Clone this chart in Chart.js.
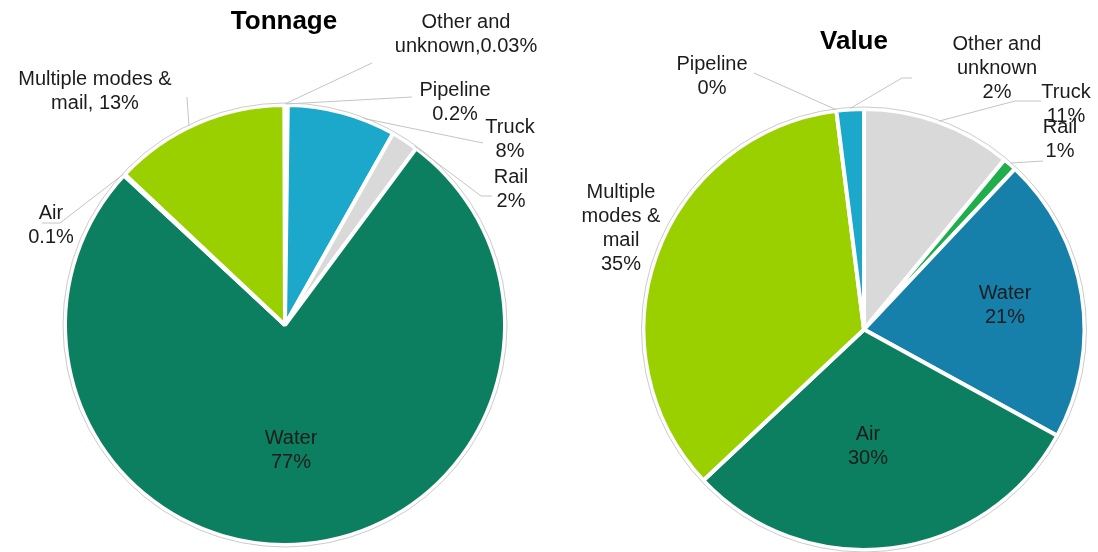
<!DOCTYPE html>
<html>
<head>
<meta charset="utf-8">
<script src="https://cdn.jsdelivr.net/npm/chart.js@4"></script>
<style>
  body { margin: 0; background: #fff; }
  #wrap { position: relative; width: 1098px; height: 552px; }
  .box { position: absolute; top: 0; height: 552px; }
  #left { left: 0; width: 560px; }
  #right { left: 560px; width: 538px; }
</style>
</head>
<body>
<div id="wrap">
  <div class="box" id="left"><canvas id="tonnageChart"></canvas></div>
  <div class="box" id="right"><canvas id="valueChart"></canvas></div>
</div>
<script>
// --- data: share of trade by mode (%), clockwise from 12 o'clock ---
const tonnageModes = ["Pipeline", "Truck", "Rail", "Water", "Air", "Multiple modes & mail", "Other and unknown"];
const tonnageShares = [0.2, 8, 2, 77, 0.1, 13, 0.03];
const tonnageText = [["Pipeline", "{v}%"], ["Truck", "{v}%"], ["Rail", "{v}%"], ["Water", "{v}%"],
  ["Air", "{v}%"], ["Multiple modes &", "mail, {v}%"], ["Other and", "unknown,{v}%"]];

const valueModes = ["Truck", "Rail", "Water", "Air", "Multiple modes & mail", "Pipeline", "Other and unknown"];
const valueShares = [11, 1, 21, 30, 35, 0, 2];
const valueText = [["Truck", "{v}%"], ["Rail", "{v}%"], ["Water", "{v}%"], ["Air", "{v}%"],
  ["Multiple", "modes &", "mail", "{v}%"], ["Pipeline", "{v}%"], ["Other and", "unknown", "{v}%"]];

// --- styles ---
const tonnageColors = ["#1e6fa8", "#1ba8cb", "#d9d9d9", "#0b7f5f", "#22b04a", "#9bd000", "#1ba8cb"];
const valueColors = ["#d9d9d9", "#1fae4b", "#1680ab", "#0b7f5f", "#9bd000", "#0f6f8f", "#1ba8cb"];

// label placement (canvas px); lead = points of the leader line starting at the label,
// t = where along the slice the leader touches the rim
const tonnageLayout = [
  { x: 455, y: 90, lead: [[412, 97]], t: 0.5 },
  { x: 510, y: 127, lead: [[483, 143]], t: 0.7 },
  { x: 511, y: 177, lead: [[492, 196], [481, 196]], t: 0.9 },
  { x: 291, y: 438 },
  { x: 51, y: 213, lead: [[42, 223], [60, 223]], t: 0.5 },
  { x: 95, y: 79, lead: [[187, 97]], t: 0.45 },
  { x: 466, y: 22, lead: [[372, 63]], t: 0.5 }
];
const valueLayout = [
  { x: 506, y: 92, lead: [[481, 101], [455, 101]], t: 0.5 },
  { x: 500, y: 127, lead: [[483, 161], [451, 163]], t: 0.5 },
  { x: 445, y: 293 },
  { x: 308, y: 434 },
  { x: 61, y: 192 },
  { x: 152, y: 64, lead: [[194, 73]], t: 0.5 },
  { x: 437, y: 44, lead: [[352, 78], [342, 78]], t: 0.5 }
];

const FONT = '20px "Liberation Sans", Arial, sans-serif';
const TITLE_FONT = 'bold 26px "Liberation Sans", Arial, sans-serif';

// draws rim outline, leader lines, slice labels and the title
const modeLabels = {
  id: "modeLabels",
  afterDatasetsDraw(chart, args, opts) {
    const ctx = chart.ctx;
    const meta = chart.getDatasetMeta(0);
    const values = chart.data.datasets[0].data;
    const first = meta.data[0].getProps(["x", "y", "outerRadius"], true);

    ctx.save();
    // faint outline round the pie
    ctx.strokeStyle = "rgba(160,160,160,0.55)";
    ctx.lineWidth = 1;
    ctx.beginPath();
    ctx.arc(first.x, first.y, first.outerRadius + 2, 0, Math.PI * 2);
    ctx.stroke();

    // leader lines
    ctx.strokeStyle = "#c4c4c4";
    opts.layout.forEach((L, i) => {
      if (!L.lead) return;
      const a = meta.data[i].getProps(["x", "y", "startAngle", "endAngle", "outerRadius"], true);
      const ang = a.startAngle + L.t * (a.endAngle - a.startAngle);
      const r = a.outerRadius + 1;
      ctx.beginPath();
      ctx.moveTo(L.lead[0][0], L.lead[0][1]);
      L.lead.slice(1).forEach(p => ctx.lineTo(p[0], p[1]));
      ctx.lineTo(a.x + Math.cos(ang) * r, a.y + Math.sin(ang) * r);
      ctx.stroke();
    });

    // labels
    ctx.font = FONT;
    ctx.fillStyle = "#1c1c1c";
    ctx.textAlign = "center";
    ctx.textBaseline = "middle";
    opts.layout.forEach((L, i) => {
      opts.text[i].forEach((line, k) => {
        ctx.fillText(line.replace("{v}", values[i]), L.x, L.y + k * 24);
      });
    });

    // title
    ctx.font = TITLE_FONT;
    ctx.fillStyle = "#000";
    ctx.fillText(opts.title.text, opts.title.x, opts.title.y);
    ctx.restore();
  }
};

function pieConfig(modes, shares, colors, text, layout, title, padding) {
  return {
    type: "pie",
    data: {
      labels: modes,
      datasets: [{
        data: shares,
        backgroundColor: colors,
        borderColor: "#ffffff",
        borderWidth: 4
      }]
    },
    options: {
      responsive: true,
      maintainAspectRatio: false,
      animation: false,
      layout: { padding },
      plugins: {
        legend: { display: false },
        tooltip: { enabled: false },
        modeLabels: { text, layout, title }
      }
    },
    plugins: [modeLabels]
  };
}

new Chart(document.getElementById("tonnageChart"),
  pieConfig(tonnageModes, tonnageShares, tonnageColors, tonnageText, tonnageLayout,
    { text: "Tonnage", x: 284, y: 22 },
    { left: 63, right: 53, top: 103, bottom: 5 }));

new Chart(document.getElementById("valueChart"),
  pieConfig(valueModes, valueShares, valueColors, valueText, valueLayout,
    { text: "Value", x: 294, y: 42 },
    { left: 81, right: 11, top: 107, bottom: 0 }));
</script>
</body>
</html>
